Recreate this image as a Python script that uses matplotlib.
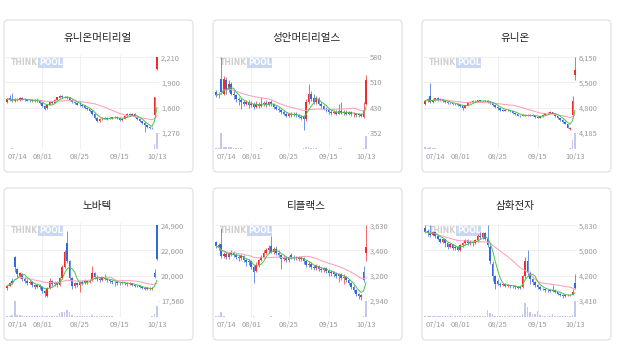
import numpy as np
import pandas as pd
import matplotlib.pyplot as plt
from matplotlib.patches import FancyBboxPatch

plt.rcParams['font.family'] = ['Noto Sans CJK KR', 'DejaVu Sans']

# ---- data ----
titles = ['유니온머티리얼', '성안머티리얼스', '유니온', '노바텍', '티플랙스', '삼화전자']
date_labels = ['07/14', '08/01', '08/25', '09/15', '10/13']
date_idx = [0, 14, 29, 45, 60]

ylabels = [['2,210', '1,900', '1,600', '1,270'],
           ['580', '510', '430', '352'],
           ['6,150', '5,500', '4,800', '4,185'],
           ['24,900', '22,000', '20,000', '17,560'],
           ['3,630', '3,400', '3,200', '2,940'],
           ['5,830', '5,000', '4,200', '3,410']]

# 유니온머티리얼
o1 = [1650,1700,1690,1665,1690,1680,1700,1690,1680,1670,1665,1680,1660,1670,1640,1600,1575,1620,1650,1640,
      1680,1705,1725,1715,1720,1700,1680,1650,1640,1620,1610,1600,1580,1560,1540,1500,1450,1415,1440,1445,
      1450,1440,1455,1460,1470,1450,1430,1445,1480,1500,1490,1500,1470,1440,1410,1390,1360,1340,1330,1490,2070]
c1 = [1690,1680,1660,1690,1685,1700,1685,1680,1670,1665,1680,1660,1675,1640,1600,1570,1620,1650,1640,1680,
      1710,1730,1715,1720,1700,1680,1650,1640,1620,1610,1600,1580,1560,1540,1500,1450,1420,1440,1445,1450,
      1440,1455,1460,1470,1450,1430,1445,1480,1500,1490,1505,1470,1440,1410,1390,1360,1340,1330,1325,1716,2210]
h1 = [1700,1740,1770,1700,1700,1710,1710,1700,1690,1685,1690,1695,1700,1680,1650,1620,1630,1660,1665,1690,
      1720,1740,1735,1730,1725,1710,1690,1670,1650,1660,1620,1610,1590,1570,1550,1510,1460,1450,1460,1465,
      1460,1465,1470,1480,1480,1460,1455,1490,1515,1520,1520,1510,1480,1450,1420,1400,1370,1350,1340,1720,2210]
l1 = [1640,1670,1650,1655,1670,1670,1675,1665,1660,1650,1655,1650,1650,1630,1590,1550,1565,1610,1630,1635,
      1675,1700,1700,1705,1690,1670,1640,1630,1610,1600,1590,1570,1550,1530,1490,1440,1405,1400,1430,1435,
      1430,1435,1445,1455,1440,1420,1420,1440,1470,1480,1485,1460,1430,1400,1375,1280,1330,1320,1310,1480,2050]
v1 = [3,2,6,2,2,2,1,1,1,1,1,1,1,1,2,2,1,1,1,1,2,2,1,1,1,1,1,1,1,2,
      1,1,1,1,1,2,1,1,1,1,1,1,1,1,1,1,1,1,2,1,1,1,1,1,1,2,1,1,1,30,100]

# 성안머티리얼스
o2 = [475,465,515,470,510,480,500,470,465,455,450,445,440,445,435,440,430,440,432,438,
      442,436,444,438,430,425,420,415,410,402,408,405,410,405,400,400,392,445,470,458,
      445,455,440,432,425,420,415,412,415,410,418,412,415,410,414,408,410,405,408,400,440]
c2 = [465,470,475,515,480,500,470,465,455,450,445,440,445,435,440,430,440,432,438,442,
      436,444,438,430,425,420,415,410,402,408,405,410,405,400,395,392,445,470,455,445,
      458,440,432,425,420,415,412,415,410,418,412,415,410,414,408,410,405,408,404,420,510]
h2 = [480,475,580,525,520,510,505,480,470,460,458,450,450,450,448,445,448,445,460,448,
      450,448,450,442,435,430,425,420,415,412,415,416,414,410,405,402,455,500,478,470,
      462,460,445,436,430,425,420,420,420,440,445,420,420,418,418,415,413,412,412,445,528]
l2 = [460,458,470,465,470,475,465,455,445,435,425,432,435,428,430,425,428,428,430,432,
      430,432,433,425,420,415,410,405,398,398,400,402,400,395,390,360,388,440,448,440,
      440,435,428,420,415,410,405,408,405,408,410,405,405,405,402,400,398,400,398,395,435]
v2 = [5,6,100,15,12,10,12,8,5,4,4,3,3,3,3,3,3,3,4,3,3,3,3,3,3,3,3,3,3,3,
      3,3,3,3,3,5,10,12,8,5,4,3,3,3,3,3,3,3,3,4,5,3,3,3,3,3,3,3,3,6,85]

# 유니온
o3 = [4930,5000,5150,4980,5050,5080,5040,5060,5000,4980,4960,4950,4940,4930,4900,4870,4840,4900,4960,4990,
      5020,5000,5030,5010,5000,5020,4990,4950,4900,4860,4820,4780,4760,4780,4770,4740,4700,4660,4630,4620,
      4640,4630,4650,4640,4630,4600,4580,4610,4650,4690,4710,4720,4680,4620,4570,4520,4470,4400,4290,4650,5700]
c3 = [5020,5060,4980,5050,5080,5040,5060,5000,4980,4960,4950,4940,4930,4900,4870,4840,4900,4960,4990,5020,
      5000,5030,5010,5000,5020,4990,4950,4900,4860,4820,4780,4760,4780,4770,4740,4700,4660,4630,4620,4640,
      4630,4650,4640,4630,4600,4580,4610,4650,4690,4710,4720,4680,4620,4570,4520,4470,4400,4320,4310,5000,5820]
h3 = [5050,5080,5470,5070,5100,5110,5080,5070,5020,5000,4980,4970,4960,4950,4920,4890,4910,4980,5010,5040,
      5040,5050,5050,5030,5040,5030,5000,4960,4910,4870,4840,4800,4800,4800,4780,4760,4710,4680,4650,4660,
      4660,4670,4670,4660,4650,4620,4630,4670,4700,4730,4740,4730,4690,4630,4580,4530,4480,4410,4330,5150,6150]
l3 = [4920,4980,4960,4960,5020,5020,5010,4990,4960,4940,4930,4920,4900,4880,4850,4780,4830,4890,4950,4980,
      4980,4990,4990,4980,4990,4970,4930,4880,4840,4780,4760,4740,4750,4750,4720,4680,4640,4610,4600,4610,
      4610,4620,4620,4610,4580,4560,4570,4600,4640,4670,4690,4660,4600,4550,4500,4450,4400,4300,4260,4620,5570]
v3 = [10,8,12,8,4,3,3,3,2,2,2,2,2,2,3,3,2,2,2,2,2,2,2,2,2,2,2,2,2,3,
      2,2,2,2,2,2,2,2,2,2,2,2,2,2,2,2,2,3,3,3,2,2,2,2,2,2,3,3,4,55,100]

# 노바텍
o4 = [18750,19000,19500,21800,20600,20000,20200,19700,19500,19300,19400,19100,18900,19050,18900,18500,18000,18800,19500,19200,
      19300,19100,19800,20800,23200,21400,19800,19000,19300,19100,19400,19300,19500,19400,19600,20300,19900,19700,19600,19800,
      19700,19600,19500,19400,19350,19300,19250,19350,19250,19200,19250,19100,19000,18950,18900,18800,18700,18750,18700,20300,24900]
c4 = [19000,19300,19300,20800,20200,20300,19700,19500,19300,19400,19100,18900,19050,18900,18500,18300,18800,19500,19200,19300,
      19100,19800,20800,22300,21400,19800,19000,19300,19100,19400,19300,19500,19400,19500,20300,19900,19700,19600,19800,19700,
      19600,19500,19400,19350,19300,19250,19350,19250,19200,19250,19100,19000,18950,18900,18800,18700,18750,18700,18800,19900,21600]
h4 = [19100,19400,19800,21900,20700,20400,20300,19900,19700,19600,19500,19200,19200,19150,19000,18600,18900,19800,19600,19500,
      19500,19900,21000,22500,24300,21500,19900,19400,19400,19500,19600,19700,19600,19700,20900,20400,20100,19900,19900,20200,
      19800,19700,19600,19500,19500,19400,19450,19400,19350,19350,19300,19200,19100,19050,19000,18900,18850,18850,18900,20600,24900]
l4 = [18650,18950,19200,20400,19900,19800,19500,19300,19100,19200,18900,18700,18800,18700,18300,17900,17900,18700,19000,19000,
      18900,19000,19700,20700,21200,19600,18700,18800,18900,18400,19100,19200,19200,19300,19500,19700,19500,19400,19500,19600,
      19400,19300,19200,19000,19100,19100,19150,19100,19000,19100,19000,18900,18850,18800,18700,18600,18650,18600,18650,19800,21500]
v4 = [8,8,10,100,15,10,8,6,5,5,4,4,4,4,5,6,6,8,5,4,5,25,30,35,45,30,15,8,6,6,
      5,5,5,5,12,8,5,4,4,5,4,4,4,3,3,3,3,3,3,3,3,3,3,3,3,3,3,3,4,20,70]

# 티플랙스
o5 = [3480,3450,3460,3350,3370,3340,3370,3380,3360,3340,3330,3350,3310,3290,3300,3250,3210,3270,3310,3340,
      3380,3400,3440,3390,3410,3380,3360,3320,3330,3310,3360,3340,3330,3340,3320,3330,3300,3270,3280,3250,
      3240,3260,3230,3220,3240,3210,3190,3200,3180,3170,3180,3150,3160,3130,3100,3070,3040,3000,2970,3200,3375]
c5 = [3440,3420,3350,3370,3340,3370,3380,3360,3340,3330,3350,3310,3290,3300,3250,3200,3270,3310,3340,3380,
      3400,3420,3390,3410,3380,3360,3320,3330,3310,3340,3340,3330,3340,3320,3330,3300,3270,3280,3250,3240,
      3260,3230,3220,3240,3210,3190,3200,3180,3170,3180,3150,3160,3130,3100,3070,3040,3000,2980,2990,3130,3430]
h5 = [3490,3470,3610,3390,3390,3390,3400,3395,3375,3360,3365,3360,3330,3320,3310,3270,3290,3320,3360,3400,
      3420,3450,3530,3430,3440,3400,3370,3350,3350,3350,3375,3355,3350,3350,3345,3340,3310,3300,3290,3270,
      3280,3270,3250,3250,3250,3230,3220,3210,3200,3190,3190,3180,3170,3140,3110,3080,3050,3010,3000,3260,3630]
l5 = [3420,3400,3330,3330,3320,3320,3350,3340,3320,3300,3310,3290,3260,3270,3230,3100,3200,3250,3300,3330,
      3370,3380,3380,3370,3360,3340,3230,3300,3290,3290,3320,3310,3310,3300,3300,3280,3250,3250,3230,3220,
      3220,3210,3200,3200,3190,3170,3170,3160,3150,3110,3130,3090,3110,3080,3050,3020,2980,2960,2950,3110,3300]
v5 = [4,4,30,5,3,3,3,3,2,2,2,2,2,2,3,4,3,2,2,2,2,3,4,2,2,2,3,2,2,2,
      2,2,2,2,2,2,2,2,2,2,2,2,2,2,2,2,2,2,2,2,2,2,2,2,2,3,3,3,3,8,100]

# 삼화전자
o6 = [5750,5650,5580,5520,5600,5500,5400,5300,5380,5250,5150,5220,5100,5150,5050,5200,5250,5350,5250,5300,
      5250,5350,5500,5450,5580,5400,5150,4600,4200,4050,3950,3900,3950,3880,3900,3870,3880,3850,3820,3850,
      4200,4700,4300,4100,4000,3900,3850,3800,3780,3760,3740,3720,3760,3680,3640,3600,3560,3580,3600,3600,3990]
c6 = [5620,5580,5520,5600,5500,5400,5300,5380,5250,5150,5220,5100,5150,5050,5200,5250,5350,5250,5300,5250,
      5350,5500,5450,5580,5400,5200,4700,4200,3950,3950,3900,3950,3880,3900,3870,3880,3850,3820,3850,4200,
      4700,4300,4100,4000,3900,3850,3800,3780,3760,3740,3720,3760,3680,3640,3600,3560,3580,3600,3590,3700,3820]
h6 = [5830,5700,5830,5650,5620,5520,5430,5420,5400,5270,5260,5240,5200,5170,5230,5300,5380,5380,5350,5330,
      5400,5550,5600,5620,5620,5830,5200,4700,4250,4100,4000,3990,3970,3940,3930,3920,3900,3870,3880,4250,
      4800,5040,4350,4150,4050,3950,3880,3830,3800,3790,3770,3900,3780,3700,3660,3620,3610,3630,3640,3790,4260]
l6 = [5580,5500,5450,5480,5420,5350,5250,5270,5150,5080,5100,5050,5050,4990,5020,5150,5200,5200,5200,5180,
      5220,5300,5380,5400,5350,5150,4600,4050,3800,3900,3850,3870,3850,3840,3830,3830,3800,3790,3800,3830,
      4150,4200,3950,3920,3850,3800,3750,3740,3700,3700,3680,3700,3650,3600,3560,3500,3530,3550,3560,3580,3800]
v6 = [6,5,8,5,5,4,4,4,5,5,4,4,4,4,4,5,5,4,4,4,5,6,5,6,8,40,25,15,8,6,
      5,4,4,4,4,4,4,4,5,20,80,60,30,20,15,35,10,8,6,6,5,15,6,5,5,5,5,5,6,10,90]

opens = [o1, o2, o3, o4, o5, o6]
closes = [c1, c2, c3, c4, c5, c6]
highs = [h1, h2, h3, h4, h5, h6]
lows = [l1, l2, l3, l4, l5, l6]
vols = [v1, v2, v3, v4, v5, v6]

# ---- layout (pixels) ----
W, H = 618, 355
UP, DOWN = '#f22a2a', '#3468e0'
GRID = '#eeeeee'

fig = plt.figure(figsize=(W / 100, H / 100), dpi=100)


def px_axes(x0, y0, x1, y1):
    return fig.add_axes([x0 / W, 1 - y1 / H, (x1 - x0) / W, (y1 - y0) / H])


bg = px_axes(0, 0, W, H)
bg.set_xlim(0, W)
bg.set_ylim(H, 0)
bg.axis('off')

card_x = [4, 213, 422]
card_y = [20, 188]

for k in range(6):
    r, c = divmod(k, 3)
    cx, cy = card_x[c], card_y[r]
    bg.add_patch(FancyBboxPatch((cx, cy), 189, 152, boxstyle='round,pad=0,rounding_size=4',
                                fc='white', ec='#dedede', lw=0.8))
    bg.text(cx + 93.5, cy + 18.5, titles[k], ha='center', va='center', fontsize=7.6, color='#222222')

    o = np.array(opens[k]); cl = np.array(closes[k])
    hi_ = np.array(highs[k]); lo_ = np.array(lows[k])
    x = np.arange(len(cl))

    vals = [float(s.replace(',', '')) for s in ylabels[k]]
    top, bot = vals[0], vals[-1]

    ax = px_axes(cx + 2, cy + 35, cx + 155, cy + 112.7)
    vax = px_axes(cx + 2, cy + 112.7, cx + 155, cy + 129)

    # candles
    up = cl >= o
    cols = np.where(up, UP, DOWN)
    ax.vlines(x, lo_, hi_, colors=cols, lw=0.5, zorder=2)
    body = np.maximum(np.abs(cl - o), (top - bot) * 0.006)
    ax.bar(x, body, bottom=np.minimum(o, cl), width=0.62, color=cols, lw=0, zorder=3)

    # moving averages
    s = pd.Series(cl, dtype=float)
    ax.plot(x, s.rolling(20, min_periods=1).mean(), color='#ff9fba', lw=0.75, zorder=4)
    ax.plot(x, s.rolling(5, min_periods=1).mean(), color='#4cc24c', lw=0.7, zorder=4)

    ax.set_xlim(-0.5, 60.8)
    ax.set_ylim(bot, bot + (top - bot) / 0.97)
    ax.set_yticks([bot + (top - bot) * j / 3 for j in (3, 2, 1, 0)])
    ax.set_yticklabels(ylabels[k])
    ax.yaxis.tick_right()
    ax.tick_params(axis='y', length=0, pad=1.5, labelsize=5.4, labelcolor='#9a9a9a')
    ax.set_xticks([])
    ax.grid(axis='y', color=GRID, lw=0.6, zorder=0)
    for t in date_idx[1:4]:
        ax.axvline(t, color=GRID, lw=0.6, zorder=0)
        vax.axvline(t, color=GRID, lw=0.6, zorder=0)
    for sp in ax.spines.values():
        sp.set_visible(False)
    ax.spines['bottom'].set_visible(True)
    ax.spines['bottom'].set_color('#dcdcdc')
    ax.spines['bottom'].set_linewidth(0.7)

    # watermark
    ax.text(0.031, 0.905, 'THINK', transform=ax.transAxes, fontsize=5.5, fontweight='bold',
            color='#cfcfcf', va='center', ha='left', family='DejaVu Sans', zorder=1)
    ax.text(0.215, 0.905, 'POOL', transform=ax.transAxes, fontsize=5.5, fontweight='bold',
            color='white', va='center', ha='left', family='DejaVu Sans', zorder=1,
            bbox=dict(fc='#c9d7f3', ec='none', pad=0.6))

    # volume
    vax.bar(x, vols[k], width=0.62, color='#c4c7ee', lw=0)
    vax.set_xlim(-0.5, 60.8)
    vax.set_ylim(0, max(vols[k]) * 1.05)
    vax.set_yticks([])
    vax.set_xticks(date_idx)
    vax.set_xticklabels(date_labels)
    vax.tick_params(axis='x', length=0, pad=3.2, labelsize=5.4, labelcolor='#9a9a9a')
    vax.get_xticklabels()[0].set_horizontalalignment('left')
    for sp in vax.spines.values():
        sp.set_visible(False)

fig.savefig('out.png', dpi=100, facecolor='white')
